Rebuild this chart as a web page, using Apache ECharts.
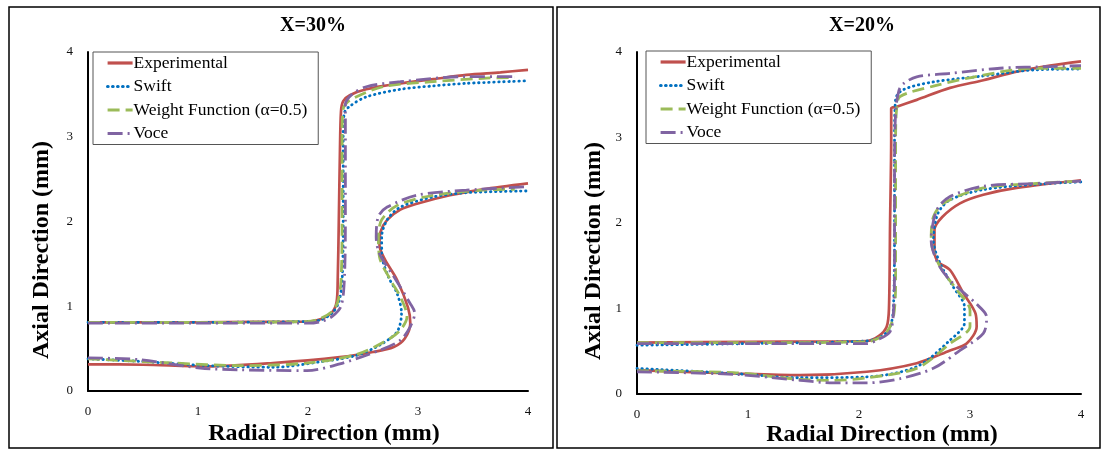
<!DOCTYPE html>
<html><head><meta charset="utf-8">
<script src="https://cdn.jsdelivr.net/npm/echarts@6/dist/echarts.min.js"></script>
<style>html,body{margin:0;padding:0;background:#fff}#c{width:1103px;height:449px}</style>
</head><body><div id="c"></div>
<script>
// ---- data: [radial, axial] pairs (mm) ----
var seriesNames = ['Experimental', 'Swift', 'Weight Function (α=0.5)', 'Voce'];
var xTicks = [0, 1, 2, 3, 4];
var yTicks = [0, 1, 2, 3, 4];
var panelTitles = ['X=30%', 'X=20%'];

// X=30%
var exp30Upper = [[0,0.81],[0.5,0.81],[1,0.81],[1.5,0.815],[2.0,0.82],[2.12,0.85],[2.22,0.93],[2.26,1.05],[2.27,1.3],[2.28,2.0],[2.29,2.8],[2.30,3.3],[2.32,3.42],[2.38,3.49],[2.53,3.56],[2.84,3.63],[3.14,3.68],[3.44,3.73],[3.75,3.76],[4.0,3.79]];
var exp30Lower = [[0,0.315],[0.5,0.31],[1.08,0.29],[1.68,0.33],[2.29,0.40],[2.59,0.46],[2.78,0.52],[2.88,0.62],[2.93,0.80],[2.91,0.98],[2.81,1.31],[2.70,1.55],[2.65,1.72],[2.66,1.88],[2.72,2.02],[2.84,2.14],[2.99,2.21],[3.29,2.31],[3.59,2.38],[4.0,2.45]];
var swift30Upper = [[0,0.81],[1,0.81],[2.0,0.82],[2.12,0.84],[2.22,0.92],[2.28,1.05],[2.31,1.3],[2.32,2.0],[2.32,3.0],[2.33,3.28],[2.38,3.36],[2.53,3.47],[2.84,3.56],[3.14,3.60],[3.44,3.63],[4.0,3.66]];
var swift30Lower = [[0,0.38],[0.47,0.35],[1.08,0.30],[1.68,0.28],[2.14,0.35],[2.44,0.42],[2.65,0.54],[2.81,0.70],[2.85,0.92],[2.81,1.15],[2.73,1.35],[2.67,1.62],[2.67,1.82],[2.72,2.02],[2.84,2.17],[3.14,2.29],[3.44,2.34],[4.0,2.36]];
var wf30Upper = [[0,0.81],[1,0.81],[2.0,0.82],[2.12,0.86],[2.22,0.94],[2.27,1.05],[2.30,1.3],[2.31,2.0],[2.31,3.0],[2.32,3.33],[2.38,3.43],[2.68,3.59],[3.14,3.65],[3.59,3.69],[3.88,3.70]];
var wf30Lower = [[0,0.38],[0.78,0.33],[1.38,0.30],[1.99,0.33],[2.44,0.43],[2.72,0.60],[2.84,0.72],[2.90,0.88],[2.84,1.11],[2.75,1.31],[2.65,1.58],[2.64,1.82],[2.67,2.02],[2.81,2.19],[3.14,2.31],[3.59,2.37],[3.88,2.38]];
var voce30Upper = [[0,0.80],[1,0.80],[2.0,0.80],[2.12,0.82],[2.22,0.88],[2.30,1.0],[2.33,1.3],[2.34,2.0],[2.34,3.0],[2.34,3.38],[2.40,3.50],[2.53,3.59],[2.84,3.65],[3.44,3.71],[3.88,3.71]];
var voce30Lower = [[0,0.39],[0.47,0.37],[1.02,0.27],[1.38,0.25],[1.99,0.24],[2.29,0.32],[2.65,0.48],[2.84,0.60],[2.93,0.76],[2.97,0.92],[2.93,1.03],[2.78,1.35],[2.65,1.62],[2.62,1.82],[2.64,2.06],[2.72,2.17],[2.99,2.31],[3.44,2.37],[4.0,2.41]];

// X=20%
var exp20Upper = [[0,0.60],[1,0.61],[2.07,0.62],[2.18,0.68],[2.25,0.79],[2.27,1.0],[2.28,2.0],[2.29,3.0],[2.29,3.34],[2.34,3.36],[2.52,3.44],[2.82,3.58],[3.12,3.67],[3.42,3.77],[3.72,3.84],[4.0,3.89]];
var exp20Lower = [[0,0.28],[0.87,0.24],[1.47,0.22],[2.07,0.26],[2.52,0.36],[2.82,0.51],[2.97,0.59],[3.06,0.79],[3.05,0.94],[2.94,1.18],[2.82,1.45],[2.71,1.55],[2.68,1.68],[2.68,1.92],[2.75,2.07],[2.91,2.23],[3.12,2.33],[3.42,2.41],[4.0,2.50]];
var swift20Upper = [[0,0.57],[1,0.59],[2.07,0.62],[2.18,0.66],[2.27,0.75],[2.31,1.0],[2.32,2.0],[2.32,3.0],[2.33,3.45],[2.40,3.56],[2.67,3.65],[3.12,3.72],[3.57,3.79],[4.0,3.80]];
var swift20Lower = [[0,0.30],[0.87,0.24],[1.47,0.19],[2.07,0.20],[2.52,0.32],[2.82,0.63],[2.95,0.83],[2.95,1.02],[2.85,1.25],[2.73,1.53],[2.67,1.80],[2.71,2.11],[2.82,2.27],[3.12,2.39],[3.57,2.45],[4.0,2.48]];
var wf20Upper = [[0,0.60],[1,0.60],[2.07,0.61],[2.17,0.65],[2.25,0.72],[2.31,0.9],[2.33,1.3],[2.33,2.0],[2.33,3.0],[2.34,3.35],[2.37,3.48],[2.67,3.60],[3.12,3.73],[3.57,3.81],[4.0,3.81]];
var wf20Lower = [[0,0.27],[0.87,0.25],[1.47,0.17],[1.77,0.16],[2.07,0.19],[2.52,0.30],[2.82,0.59],[3.00,0.79],[3.00,0.98],[2.88,1.22],[2.73,1.49],[2.65,1.80],[2.67,2.07],[2.76,2.23],[3.12,2.41],[3.57,2.46],[4.0,2.49]];
var voce20Upper = [[0,0.59],[1,0.59],[2.07,0.59],[2.18,0.64],[2.28,0.73],[2.31,0.95],[2.32,1.5],[2.32,2.5],[2.33,3.3],[2.36,3.55],[2.40,3.63],[2.52,3.71],[2.82,3.75],[3.27,3.81],[3.72,3.83],[4.0,3.84]];
var voce20Lower = [[0,0.26],[0.87,0.23],[1.47,0.16],[1.77,0.13],[2.07,0.13],[2.37,0.18],[2.67,0.30],[2.91,0.51],[3.12,0.71],[3.15,0.90],[3.06,1.05],[2.82,1.33],[2.71,1.53],[2.65,1.80],[2.70,2.15],[2.82,2.31],[3.12,2.43],[3.57,2.46],[4.0,2.49]];

var panels = [
  [[exp30Upper, exp30Lower], [swift30Upper, swift30Lower], [wf30Upper, wf30Lower], [voce30Upper, voce30Lower]],
  [[exp20Upper, exp20Lower], [swift20Upper, swift20Lower], [wf20Upper, wf20Lower], [voce20Upper, voce20Lower]]
];

// ---- styles ----
var FONT = '"Liberation Serif", "Times New Roman", serif';
var styles = [
  {color: '#C0504D', type: 'solid', width: 2.7, cap: 'butt'},
  {color: '#0070C0', type: [0.5, 4.5], width: 2.8, cap: 'round'},
  {color: '#9BBB59', type: [12, 6], width: 2.8, cap: 'butt'},
  {color: '#8064A2', type: [15, 5, 2, 5], width: 2.8, cap: 'butt'}
];

var series = [];
panels.forEach(function (panel, p) {
  panel.forEach(function (branches, s) {
    branches.forEach(function (data) {
      series.push({
        type: 'line', name: seriesNames[s], xAxisIndex: p, yAxisIndex: p,
        data: data, smooth: 0.3, symbol: 'none', showSymbol: false, animation: false,
        itemStyle: {color: styles[s].color},
        lineStyle: {color: styles[s].color, width: styles[s].width, type: styles[s].type, cap: styles[s].cap}
      });
    });
  });
});

function xAxis(i) {
  return {
    type: 'value', gridIndex: i, min: xTicks[0], max: xTicks[xTicks.length - 1], interval: 1,
    axisLine: {show: true, onZero: false, lineStyle: {color: '#000', width: 2}},
    axisTick: {show: false}, splitLine: {show: false},
    axisLabel: {margin: 14, fontFamily: FONT, fontSize: 13, color: '#111'}
  };
}
function yAxis(i) {
  return {
    type: 'value', gridIndex: i, min: yTicks[0], max: yTicks[yTicks.length - 1], interval: 1,
    axisLine: {show: true, onZero: false, lineStyle: {color: '#000', width: 2}},
    axisTick: {show: false}, splitLine: {show: false},
    axisLabel: {margin: 15, fontFamily: FONT, fontSize: 13, color: '#111'}
  };
}
function legend(left, top) {
  return {
    orient: 'vertical', left: left, top: top, data: seriesNames,
    itemWidth: 25, itemHeight: 14, itemGap: 5.5, padding: [2, 11, 2, 13],
    itemStyle: {opacity: 0},
    lineStyle: {width: 3.2},
    borderColor: '#555', borderWidth: 1, backgroundColor: '#fff',
    textStyle: {fontFamily: FONT, fontSize: 17.5, color: '#000', padding: [0, 0, 0, -4]}
  };
}
function txt(x, y, text, size, rot) {
  return {type: 'text', x: x, y: y, rotation: rot || 0, z: 100,
    style: {text: text, font: 'bold ' + size + 'px ' + FONT, fill: '#000',
      align: 'center', verticalAlign: 'middle', textAlign: 'center', textVerticalAlign: 'middle'}};
}

var option = {
  backgroundColor: '#fff',
  animation: false,
  grid: [
    {left: 88, top: 52, width: 440, height: 339},
    {left: 637, top: 52, width: 444, height: 342}
  ],
  xAxis: [xAxis(0), xAxis(1)],
  yAxis: [yAxis(0), yAxis(1)],
  legend: [legend(93, 52), legend(646, 51)],
  series: series,
  graphic: [
    {type: 'rect', shape: {x: 9, y: 7, width: 544, height: 441}, style: {fill: 'none', stroke: '#000', lineWidth: 1.5}},
    {type: 'rect', shape: {x: 557, y: 7, width: 543, height: 441}, style: {fill: 'none', stroke: '#000', lineWidth: 1.5}},
    txt(313, 26, panelTitles[0], 20),
    txt(862, 26, panelTitles[1], 20),
    txt(42, 250, 'Axial Direction (mm)', 24, Math.PI / 2),
    txt(594, 251, 'Axial Direction (mm)', 24, Math.PI / 2),
    txt(324, 434, 'Radial Direction (mm)', 24),
    txt(882, 435, 'Radial Direction (mm)', 24)
  ]
};
var chart = echarts.init(document.getElementById('c'), null, {renderer: 'canvas'});
chart.setOption(option);
</script></body></html>
